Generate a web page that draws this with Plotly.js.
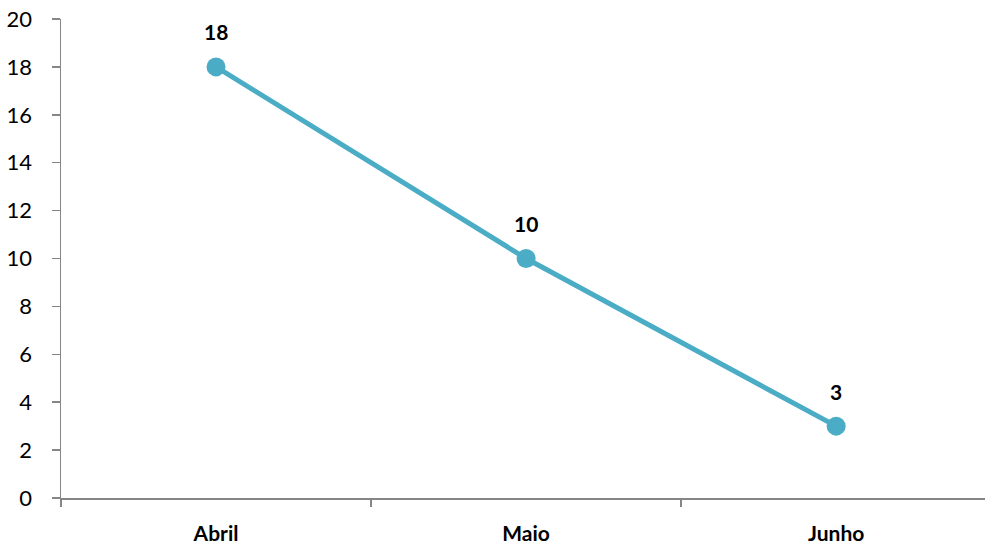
<!DOCTYPE html>
<html>
<head>
<meta charset="utf-8">
<script src="https://cdn.plot.ly/plotly-3.0.1.min.js"></script>
<style>html,body{margin:0;padding:0;overflow:hidden;background:#fff}</style>
</head>
<body>
<div id="chart" style="width:985px;height:550px"></div>
<script>
const categories = ["Abril", "Maio", "Junho"];
const values = [18, 10, 3];
const yTicks = [0, 2, 4, 6, 8, 10, 12, 14, 16, 18, 20];

const FONT = "Lato, 'Open Sans', sans-serif";

const trace = {
  x: categories,
  y: values,
  type: "scatter",
  mode: "lines+markers",
  line: {color: "#4BACC6", width: 5},
  marker: {color: "#4BACC6", size: 19},
  cliponaxis: false,
  hoverinfo: "skip"
};

const annotations = categories.map((c, i) => ({
  x: c,
  y: values[i],
  xref: "x",
  yref: "y",
  text: "<b>" + values[i] + "</b>",
  showarrow: false,
  yshift: 35,
  font: {family: FONT, size: 21, color: "#000"}
}));

const layout = {
  width: 985,
  height: 550,
  margin: {l: 61, r: 0, t: 19, b: 52},
  paper_bgcolor: "#fff",
  plot_bgcolor: "#fff",
  showlegend: false,
  font: {family: FONT, size: 21, color: "#000"},
  annotations: annotations,
  xaxis: {
    type: "category",
    range: [-0.5, 2.48],
    tickson: "boundaries",
    ticks: "outside",
    ticklen: 7,
    tickwidth: 1.5,
    tickcolor: "#868686",
    showline: true,
    linecolor: "#868686",
    linewidth: 1.5,
    showgrid: false,
    zeroline: false,
    automargin: false,
    ticklabelstandoff: 16,
    tickfont: {family: FONT, size: 21, color: "#000", weight: "bold"}
  },
  yaxis: {
    range: [0, 20],
    tickvals: yTicks,
    ticktext: yTicks.map(String),
    ticks: "outside",
    ticklen: 8,
    tickwidth: 1.5,
    tickcolor: "#868686",
    showline: true,
    linecolor: "#868686",
    linewidth: 1.5,
    showgrid: false,
    zeroline: false,
    automargin: false,
    ticklabelstandoff: 15,
    tickfont: {family: FONT, size: 22, color: "#000"}
  }
};

Plotly.newPlot("chart", [trace], layout, {displayModeBar: false, staticPlot: true});
</script>
</body>
</html>
